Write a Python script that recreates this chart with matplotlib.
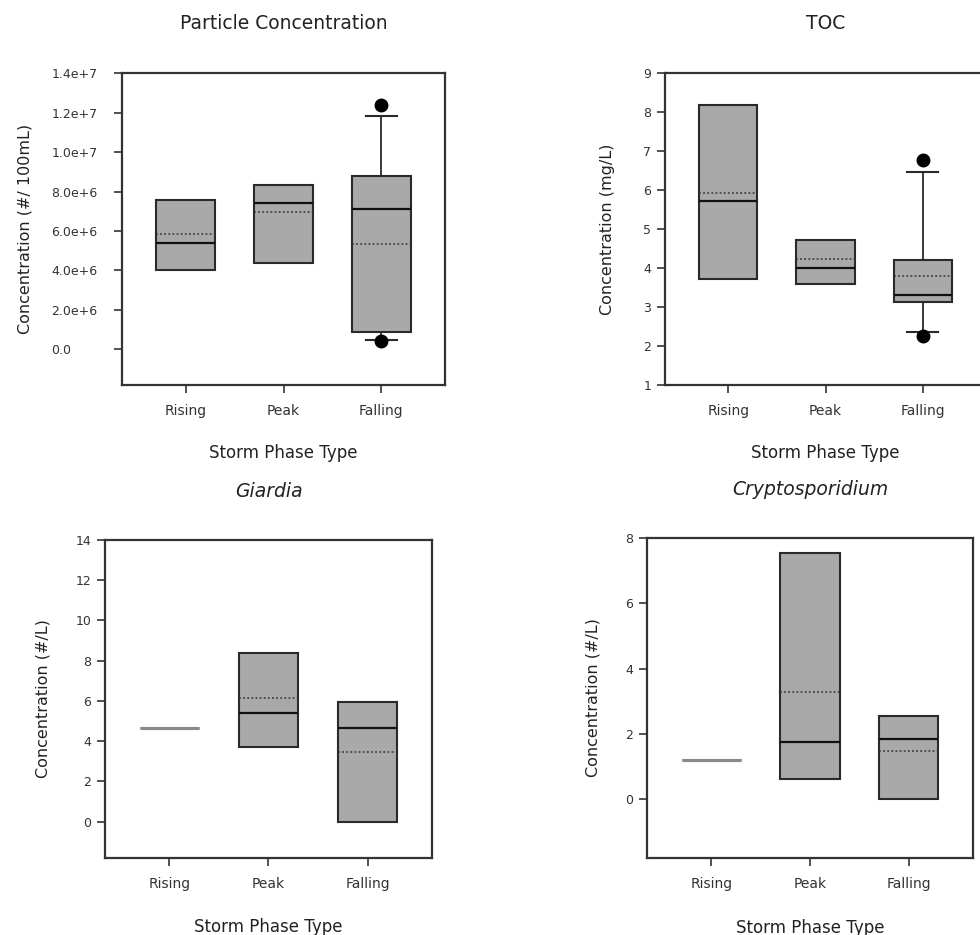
import matplotlib.pyplot as plt

plt.rcParams['font.family'] = ['DejaVu Sans']

phases = ["Rising", "Peak", "Falling"]

# Particle concentration (#/100mL)
part_q1 = [4.0e6, 4.4e6, 0.9e6]
part_med = [5.4e6, 7.4e6, 7.1e6]
part_q3 = [7.55e6, 8.35e6, 8.8e6]
part_mean = [5.85e6, 6.95e6, 5.35e6]
part_wlo = [4.0e6, 4.4e6, 0.47e6]
part_whi = [7.55e6, 8.35e6, 1.18e7]
part_out = [[], [], [1.24e7, 0.42e6]]

# TOC (mg/L)
toc_q1 = [3.73, 3.58, 3.12]
toc_med = [5.72, 4.01, 3.31]
toc_q3 = [8.18, 4.71, 4.2]
toc_mean = [5.92, 4.24, 3.8]
toc_wlo = [3.73, 3.58, 2.36]
toc_whi = [8.18, 4.71, 6.47]
toc_out = [[], [], [6.76, 2.25]]

# Giardia (#/L)
giar_q1 = [4.64, 3.73, 0.0]
giar_med = [4.64, 5.38, 4.64]
giar_q3 = [4.64, 8.37, 5.96]
giar_mean = [4.64, 6.13, 3.48]

# Cryptosporidium (#/L)
cryp_q1 = [1.2, 0.61, 0.0]
cryp_med = [1.2, 1.75, 1.83]
cryp_q3 = [1.2, 7.54, 2.55]
cryp_mean = [1.2, 3.29, 1.48]

FILL = '#a9a9a9'
EDGE = '#2a2a2a'


def draw(ax, q1, med, q3, mean, wlo=None, whi=None, out=None):
    wlo = wlo or q1
    whi = whi or q3
    out = out or [[] for _ in q1]
    stats = []
    for i in range(len(q1)):
        stats.append(dict(q1=q1[i], med=med[i], q3=q3[i], mean=mean[i],
                          whislo=wlo[i], whishi=whi[i], fliers=out[i],
                          label=phases[i]))
    res = ax.bxp(stats, positions=[1, 2, 3], widths=0.6, capwidths=0.32,
                 patch_artist=True, showmeans=True, meanline=True,
                 boxprops=dict(facecolor=FILL, edgecolor=EDGE, linewidth=1.5),
                 medianprops=dict(color='#111111', linewidth=1.6),
                 meanprops=dict(color='#333333', linestyle=(0, (1.2, 1.5)), linewidth=1.1),
                 whiskerprops=dict(color=EDGE, linewidth=1.3),
                 capprops=dict(color=EDGE, linewidth=1.5),
                 flierprops=dict(marker='o', markerfacecolor='black',
                                 markeredgecolor='black', markersize=9))
    for i in range(len(q1)):
        if wlo[i] == q1[i]:
            res['caps'][2 * i].set_visible(False)
            res['whiskers'][2 * i].set_visible(False)
        if whi[i] == q3[i]:
            res['caps'][2 * i + 1].set_visible(False)
            res['whiskers'][2 * i + 1].set_visible(False)
        if q1[i] == q3[i]:
            # single observation: just a grey line
            res['boxes'][i].set_edgecolor('#8a8a8a')
            res['boxes'][i].set_linewidth(2.2)
            res['medians'][i].set_color('#8a8a8a')
            res['medians'][i].set_linewidth(2.2)
            res['means'][i].set_visible(False)
    ax.set_xlim(0.35, 3.65)
    ax.set_xticks([1, 2, 3])
    ax.set_xticklabels(phases, fontsize=10, color='#222222')
    ax.tick_params(axis='x', length=6, width=1.2, pad=8, colors='#333333')
    ax.tick_params(axis='y', length=6, width=1.2, pad=4, labelsize=9, colors='#333333')
    for s in ax.spines.values():
        s.set_linewidth(1.6)
        s.set_color('#333333')
    ax.set_xlabel("Storm Phase Type", fontsize=12, color='#222222')
    ax.xaxis.set_label_coords(0.5, -0.19)


fig = plt.figure(figsize=(9.8, 9.35), dpi=100)

ax1 = fig.add_axes([0.1245, 0.5882, 0.3296, 0.3337])
draw(ax1, part_q1, part_med, part_q3, part_mean, part_wlo, part_whi, part_out)
ax1.set_ylim(-1.8e6, 1.4e7)
ax1.set_yticks([0, 2e6, 4e6, 6e6, 8e6, 1e7, 1.2e7, 1.4e7])
ax1.set_yticklabels(['0.0', '2.0e+6', '4.0e+6', '6.0e+6', '8.0e+6',
                     '1.0e+7', '1.2e+7', '1.4e+7'])
ax1.tick_params(axis='y', pad=45)
for lab in ax1.get_yticklabels():
    lab.set_horizontalalignment('left')
ax1.set_ylabel("Concentration (#/ 100mL)", fontsize=11.5, color='#222222')
ax1.yaxis.set_label_coords(-0.276, 0.5)
ax1.set_title("Particle Concentration", fontsize=13.5, color='#222222', pad=32)

ax2 = fig.add_axes([0.6786, 0.5882, 0.3276, 0.3337])
draw(ax2, toc_q1, toc_med, toc_q3, toc_mean, toc_wlo, toc_whi, toc_out)
ax2.set_ylim(1, 9)
ax2.set_yticks(range(1, 10))
ax2.set_ylabel("Concentration (mg/L)", fontsize=11.5, color='#222222')
ax2.yaxis.set_label_coords(-0.156, 0.5)
ax2.set_title("TOC", fontsize=13.5, color='#222222', pad=32)

ax3 = fig.add_axes([0.1071, 0.0824, 0.3337, 0.3401])
draw(ax3, giar_q1, giar_med, giar_q3, giar_mean)
ax3.set_ylim(-1.8, 14)
ax3.set_yticks(range(0, 15, 2))
ax3.set_ylabel("Concentration (#/L)", fontsize=11.5, color='#222222')
ax3.yaxis.set_label_coords(-0.168, 0.5)
ax3.set_title("Giardia", fontsize=13.5, style='italic', color='#222222', pad=31)

ax4 = fig.add_axes([0.6602, 0.0824, 0.3327, 0.3422])
draw(ax4, cryp_q1, cryp_med, cryp_q3, cryp_mean)
ax4.set_ylim(-1.8, 8)
ax4.set_yticks(range(0, 9, 2))
ax4.set_ylabel("Concentration (#/L)", fontsize=11.5, color='#222222')
ax4.yaxis.set_label_coords(-0.144, 0.5)
ax4.set_title("Cryptosporidium", fontsize=13.5, style='italic', color='#222222', pad=31)

fig.savefig("out.png", dpi=100)
